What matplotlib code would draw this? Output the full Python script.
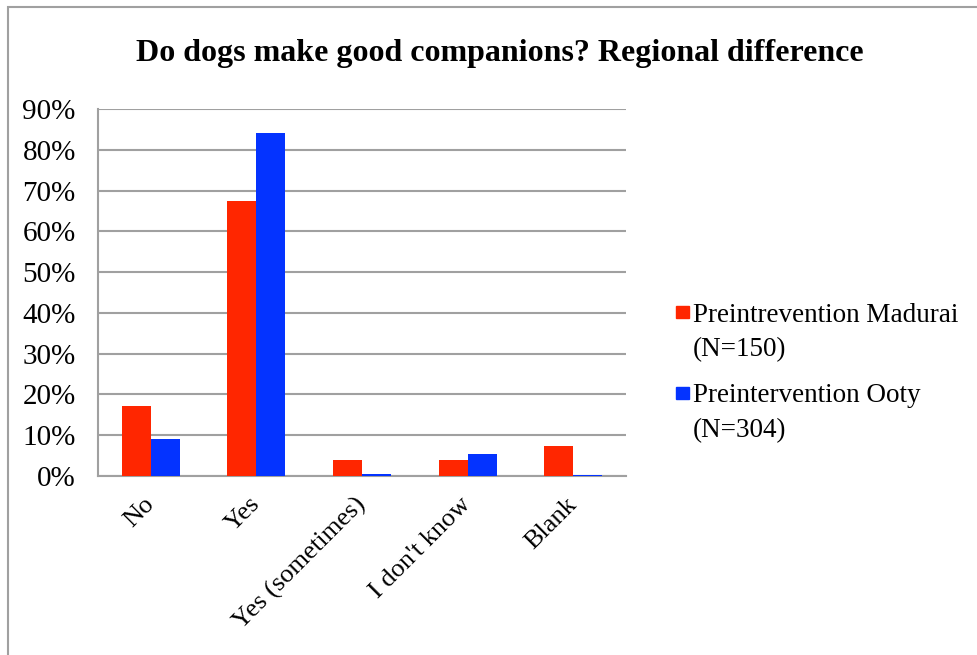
import numpy as np
import matplotlib.pyplot as plt
from matplotlib.patches import Rectangle
from matplotlib.ticker import PercentFormatter

categories = ["No", "Yes", "Yes (sometimes)", "I don't know", "Blank"]
madurai = [17.2, 67.4, 3.9, 3.9, 7.3]
ooty = [9.0, 84.2, 0.6, 5.4, 0.3]
labels = ["Preintrevention Madurai\n(N=150)", "Preintervention Ooty\n(N=304)"]
colors = ['#FF2600', '#0433FF']

plt.rcParams['font.family'] = ['Liberation Serif', 'DejaVu Serif']

fig = plt.figure(figsize=(9.78, 6.55), dpi=100)
ax = fig.add_axes([98 / 978, 1 - 476 / 655, 528 / 978, 367 / 655])

x = np.arange(len(categories))
w = 0.275
ax.bar(x - w / 2, madurai, w, color=colors[0], zorder=3)
ax.bar(x + w / 2, ooty, w, color=colors[1], zorder=3)

ax.set_xlim(-0.5, len(categories) - 0.5)
ax.set_ylim(0, 90)
ax.set_yticks(np.arange(0, 91, 10))
ax.yaxis.set_major_formatter(PercentFormatter(decimals=0))
ax.grid(axis='y', color='#a0a0a0', linewidth=1.5, zorder=0)
for s in ['top', 'right']:
    ax.spines[s].set_visible(False)
for s in ['left', 'bottom']:
    ax.spines[s].set_color('#a0a0a0')
    ax.spines[s].set_linewidth(1.5)
ax.tick_params(axis='y', labelsize=21, length=0, pad=16)
ax.tick_params(axis='x', length=0, pad=18)
ax.set_xticks(x)
ax.set_xticklabels(categories, rotation=45, ha='right', va='center',
                   rotation_mode='anchor', fontsize=19)

fig.text(0.511, 1 - 53 / 655, "Do dogs make good companions? Regional difference",
         ha='center', va='center', fontsize=23, fontweight='bold')

# legend drawn by hand so the swatch sits on the first text line
legend_y = [315, 396]
line_gap = 35
for lab, col, yy in zip(labels, colors, legend_y):
    fig.patches.append(Rectangle((676 / 978, 1 - 318 / 655 - (yy - 315) / 655), 13 / 978, 12 / 655,
                                 transform=fig.transFigure, color=col))
    for i, line in enumerate(lab.split("\n")):
        fig.text(693 / 978, 1 - (yy + i * line_gap) / 655, line,
                 ha='left', va='center', fontsize=19.5)

# outer chart frame
fig.patches.append(Rectangle((8 / 978, -0.1), 1.2, 1 - 7 / 655 + 0.1,
                             transform=fig.transFigure, fill=False,
                             edgecolor='#a0a0a0', linewidth=1.5))

fig.savefig("out.png", dpi=100)
